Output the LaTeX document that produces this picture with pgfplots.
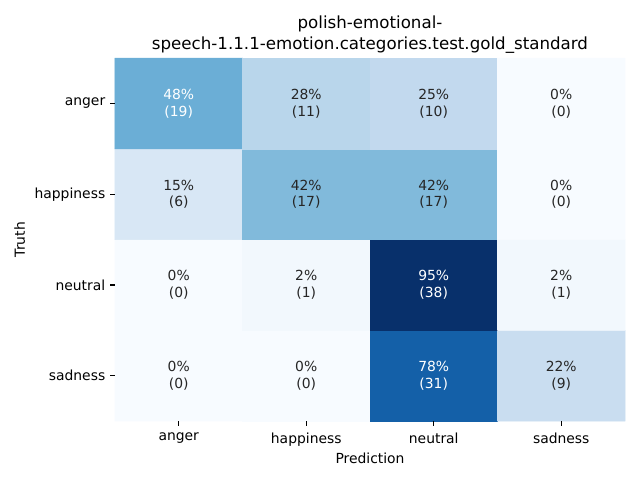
\documentclass[border=0pt]{standalone}
\usepackage{pgfplots}
\usepackage{pgfplotstable}
\pgfplotsset{compat=1.18}
\usepackage{fontspec}
\setmainfont{DejaVu Sans}
\definecolor{txtdark}{RGB}{38,38,38}
\pgfplotstableread{
x y c
0 0 0
1 0 0
2 0 31
3 0 9
0 1 0
1 1 1
2 1 38
3 1 1
0 2 6
1 2 17
2 2 17
3 2 0
0 3 19
1 3 11
2 3 10
3 3 0
}\cm
\pgfplotstableread{
x y c p
0 3 19 48
2 1 38 95
2 0 31 78
}\txtw
\pgfplotstableread{
x y c p
1 3 11 28
2 3 10 25
3 3 0 0
0 2 6 15
1 2 17 42
2 2 17 42
3 2 0 0
0 1 0 0
1 1 1 2
3 1 1 2
0 0 0 0
1 0 0 0
3 0 9 22
}\txtd
\begin{document}
\begin{tikzpicture}
\useasboundingbox (-82.8pt,-42.5pt) rectangle (378pt,303.2pt);
\begin{axis}[
 at={(0,0)}, anchor=south west, scale only axis,
 width=367.2pt, height=261.4pt,
 xmin=-0.5, xmax=3.5, ymin=-0.5, ymax=3.5,
 colormap={blues}{rgb255=(247,251,255) rgb255=(222,235,247) rgb255=(198,219,239) rgb255=(158,202,225) rgb255=(107,174,214) rgb255=(66,146,198) rgb255=(33,113,181) rgb255=(8,81,156) rgb255=(8,48,107)},
 point meta min=0, point meta max=38,
 xtick={0,1,2,3}, ytick={0,1,2,3},
 xticklabels={anger,happiness,neutral,sadness},
 yticklabels={sadness,neutral,happiness,anger},
 axis x line*=bottom, axis y line*=left,
 axis line style={draw=none, -},
 tick align=outside,
 major tick length=3.5pt,
 tick style={draw=black, line width=0.8pt},
 axis on top,
 tick label style={font=\fontsize{10}{12}\selectfont, text=black},
 xlabel={Prediction}, ylabel={Truth},
 label style={font=\fontsize{10}{12}\selectfont},
 title={polish-emotional-\\[0.7pt]speech-1.1.1-emotion.categories.test.gold\_standard},
 title style={align=center, font=\fontsize{12}{14.4}\selectfont, at={(0.5,1)}, anchor=south, yshift=-6.5pt},
 xlabel style={yshift=2.5pt},
 xticklabel style={yshift=-1.5pt},
 clip=false,
]
\addplot[matrix plot*, mesh/cols=4, point meta=explicit] table[x=x, y=y, meta=c] {\cm};
\addplot[only marks, mark=none, point meta=explicit symbolic,
 visualization depends on={\thisrow{p}\as\pct},
 visualization depends on={\thisrow{c}\as\cnt},
 nodes near coords={\pgfmathprintnumber[assume math mode=true]{\pct}\%\\(\pgfmathprintnumber[assume math mode=true]{\cnt})}, nodes near coords align=center,
 every node near coord/.append style={align=center, text=white, font=\fontsize{10}{12}\selectfont, anchor=center}]
 table[x=x, y=y, meta=c] {\txtw};
\addplot[only marks, mark=none, point meta=explicit symbolic,
 visualization depends on={\thisrow{p}\as\pct},
 visualization depends on={\thisrow{c}\as\cnt},
 nodes near coords={\pgfmathprintnumber[assume math mode=true]{\pct}\%\\(\pgfmathprintnumber[assume math mode=true]{\cnt})}, nodes near coords align=center,
 every node near coord/.append style={align=center, text=txtdark, font=\fontsize{10}{12}\selectfont, anchor=center}]
 table[x=x, y=y, meta=c] {\txtd};
\draw[black, line width=0.8pt] (axis cs:0,-0.5) -- ++(0pt,-3.5pt);
\draw[black, line width=0.8pt] (axis cs:1,-0.5) -- ++(0pt,-3.5pt);
\draw[black, line width=0.8pt] (axis cs:2,-0.5) -- ++(0pt,-3.5pt);
\draw[black, line width=0.8pt] (axis cs:3,-0.5) -- ++(0pt,-3.5pt);
\end{axis}
\end{tikzpicture}
\end{document}
